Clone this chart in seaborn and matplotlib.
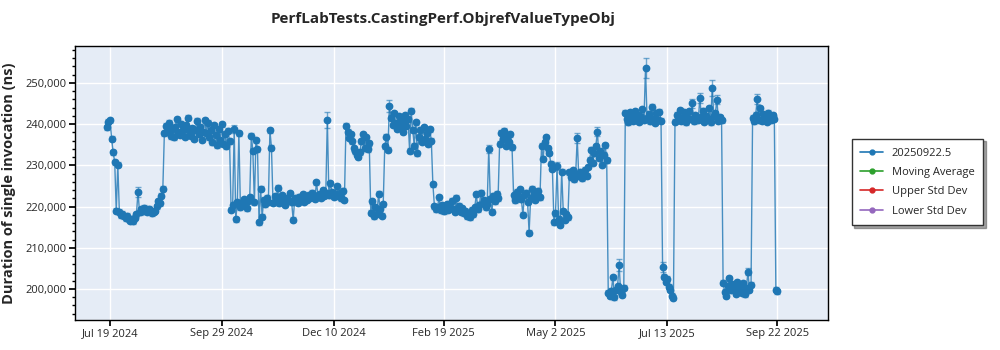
import numpy as np
import pandas as pd
import matplotlib
matplotlib.use("Agg")
import matplotlib.pyplot as plt
from matplotlib.lines import Line2D
from matplotlib.ticker import FuncFormatter, MultipleLocator
import seaborn as sns

title = "PerfLabTests.CastingPerf.ObjrefValueTypeObj"
y_label = "Duration of single invocation (ns)"
series_name = "20250922.5"
legend_labels = ["20250922.5", "Moving Average", "Upper Std Dev", "Lower Std Dev"]
legend_colors = ["#1f77b4", "#2ca02c", "#d62728", "#9467bd"]
x_tick_labels = ["Jul 19 2024", "Sep 29 2024", "Dec 10 2024", "Feb 19 2025",
                 "May 2 2025", "Jul 13 2025", "Sep 22 2025"]
first_date = "2024-07-17"

# values in thousands of ns, one per day
values_k = [
    239.2, 240.6, 241.0, 236.5, 233.2, 230.8, 219.0, 230.2,
    218.7, 217.9, 218.3, 217.6, 217.2, 217.8, 216.9, 216.5, 217.1, 216.4,
    217.3, 218.1, 223.6, 218.6, 219.4, 218.9, 219.7, 219.2, 218.8, 219.5,
    219.1, 218.4, 218.7, 219.0, 220.1, 221.3, 220.8, 222.6, 224.3,
    237.8, 239.6, 238.2, 240.4, 237.1, 238.9, 236.8, 239.3, 241.2, 238.0,
    237.4, 240.1, 238.6, 236.9, 239.8, 241.5, 238.3, 237.2, 239.0, 236.5,
    238.7, 240.8, 237.6, 239.4, 236.2, 238.1, 241.0, 237.9, 240.3, 236.8,
    238.5, 235.6, 239.7, 237.3, 234.9, 238.8, 236.1, 240.0, 235.3, 237.7,
    234.6, 238.4, 235.8,
    219.2, 220.4, 238.8, 216.9, 221.0, 237.8, 219.8, 220.9, 221.8, 220.2,
    219.6, 221.4, 222.3, 237.2, 233.6, 221.0, 236.1, 233.9, 216.2, 224.3,
    217.5, 221.7, 220.6, 222.2, 221.1, 238.5, 234.3, 220.9, 222.5, 221.6,
    224.6, 220.8, 221.9, 222.8, 221.3, 220.5, 222.1, 221.4, 223.2, 221.0,
    216.8, 222.0, 221.5, 220.9, 222.4, 221.8, 223.0, 221.2, 222.3, 221.7,
    222.9, 222.1, 223.4, 222.5, 221.9, 225.9, 222.7, 223.1, 222.2, 224.0,
    222.6, 223.3, 241.0, 222.8, 225.6, 223.5, 222.4, 223.0, 224.9, 222.6,
    223.4, 222.0, 223.8, 221.6,
    239.6, 238.2, 236.7, 237.6, 235.8, 234.2, 233.4, 232.6, 232.1, 233.2,
    235.9, 237.6, 234.3, 236.8, 233.9, 235.4,
    218.5, 221.3, 217.6, 219.8, 218.2, 223.1, 219.4, 217.8, 220.6,
    234.6, 236.9, 233.8, 244.4, 241.5, 239.8, 242.6, 240.3, 238.9, 241.9,
    239.4, 240.8, 238.2, 242.1, 239.6, 241.2, 233.6, 243.2, 238.7, 234.8,
    240.5, 232.9, 236.8, 238.6, 235.7, 239.3, 236.4, 237.9, 235.2, 238.8,
    236.0, 225.4,
    220.1, 219.4, 219.8, 222.3, 219.1, 220.3, 218.9, 219.7, 220.6, 219.2,
    220.0, 221.4, 219.5, 218.7, 222.2, 219.3, 220.2, 218.8, 219.6, 218.4,
    219.0, 217.6, 218.5, 217.4, 219.2, 218.1, 219.8, 223.0, 219.4, 220.5,
    223.4, 220.9, 221.6, 219.8, 220.7, 234.0,
    221.9, 218.8, 222.6, 221.3, 223.1, 222.0,
    235.2, 237.9, 236.4, 238.4, 234.8, 236.9, 235.6, 237.5, 234.4,
    222.8, 221.5, 223.6, 222.0, 224.2, 221.8, 218.0, 222.9, 223.4, 221.2,
    213.7, 222.1, 224.3, 223.0, 221.6, 222.7, 223.8, 222.3,
    234.8, 231.6, 235.6, 236.8, 234.1, 233.0, 230.4, 229.2,
    216.2, 218.4, 229.8, 217.1, 215.6, 228.5, 218.9, 216.8, 218.2, 217.4,
    228.3, 227.1, 228.8, 226.6, 227.9, 236.6, 227.3, 228.5, 226.9, 227.8,
    228.9, 227.5, 229.6,
    231.4, 233.8, 230.6, 232.9, 234.7, 238.2, 231.8, 233.5, 230.2, 232.6,
    234.9, 231.2,
    199.1, 198.3, 199.6, 202.9, 198.0, 199.8, 200.7, 205.8, 199.2, 198.6,
    200.3,
    242.8, 241.2, 240.5, 242.9, 241.6, 240.8, 243.1, 241.0, 242.2, 240.6,
    241.8, 243.6, 240.9, 253.6, 241.4, 242.5, 240.7, 244.2, 241.3, 240.4,
    242.7, 241.1, 243.0, 240.8,
    205.4, 203.0, 201.8, 202.5, 200.6, 199.8, 198.4, 197.9,
    240.6, 242.3, 241.0, 243.4, 240.8, 241.7, 242.9, 240.5, 241.6, 243.1,
    241.2, 245.1, 240.7, 242.2, 241.4, 240.9, 246.3, 241.8, 243.3, 240.6,
    242.0, 241.3, 243.8, 240.5, 248.7, 241.9, 242.6, 245.9, 240.8, 241.7,
    240.9,
    201.5, 199.3, 198.4, 200.8, 202.6, 199.7, 201.2, 200.3, 198.9, 201.6,
    199.5, 200.9, 199.1, 201.4, 198.7, 200.2, 204.2, 199.8, 201.0,
    241.6, 240.7, 242.3, 246.1, 241.0, 243.9, 240.8, 242.4, 241.2, 240.6,
    242.8, 241.5, 240.9, 242.1, 241.3,
    199.8, 199.5,
]

# error bar half-widths (thousands of ns): typical value, larger ones at spikes
typical_error_k = 0.6
larger_errors_k = {20: 1.2, 82: 1.0, 142: 1.9, 182: 1.5, 246: 1.0, 290: 1.0,
                   303: 1.2, 316: 1.0, 330: 1.5, 347: 2.4, 358: 1.2, 377: 1.1,
                   382: 1.2, 390: 1.9, 393: 1.1, 419: 1.3, 413: 0.9}

df = pd.DataFrame({
    "date": pd.date_range(first_date, periods=len(values_k), freq="D"),
    "value": np.array(values_k) * 1000.0,
})
df["err"] = [larger_errors_k.get(i, typical_error_k) * 1000.0 for i in range(len(df))]

sns.set_theme(style="whitegrid")
plt.rcParams["font.family"] = ["Open Sans", "DejaVu Sans"]

fig = plt.figure(figsize=(10, 3.5), dpi=100)
ax = fig.add_axes([0.075, 0.086, 0.753, 0.783])
ax.set_facecolor("#E5ECF6")
fig.patch.set_facecolor("white")

blue = "#1f77b4"
sns.lineplot(data=df, x="date", y="value", ax=ax, color=blue, lw=1.0,
             alpha=0.8, legend=False, zorder=2)
ax.errorbar(df["date"], df["value"], yerr=df["err"], fmt="o", ms=4.6,
            color=blue, ecolor=(0.12, 0.47, 0.71, 0.6), elinewidth=1.0,
            capsize=2.5, capthick=1.0, zorder=3)

ax.set_ylim(192500, 259000)
ax.set_xlim(pd.Timestamp("2024-06-26 10:00"), pd.Timestamp("2025-10-24 14:00"))
ax.yaxis.set_major_locator(MultipleLocator(10000))
ax.yaxis.set_minor_locator(MultipleLocator(2000))
ax.yaxis.set_major_formatter(FuncFormatter(lambda v, p: f"{int(v):,}"))
tick_dates = [pd.to_datetime(t, format="%b %d %Y") for t in x_tick_labels]
ax.set_xticks(tick_dates)
ax.set_xticklabels(x_tick_labels)

ax.grid(True, which="major", color="white", lw=1.0)
ax.grid(False, which="minor")
for s in ax.spines.values():
    s.set_color("black")
    s.set_linewidth(1.0)
ax.tick_params(axis="both", which="major", labelsize=8, length=4, color="black",
               direction="out", left=True, bottom=True, pad=2)
ax.tick_params(axis="y", which="minor", length=2, color="black", left=True)
ax.set_xlabel("")
ax.set_ylabel(y_label, fontsize=10.5, fontweight="bold", labelpad=7)

fig.text(0.443, 0.945, title, ha="center", va="center", fontsize=11,
         fontweight="bold")

handles = [Line2D([0], [0], color=c, marker="o", ms=3.5, lw=1.2) for c in legend_colors]
leg = fig.legend(handles, legend_labels, loc="center left",
                 bbox_to_anchor=(0.846, 0.48), fontsize=8, frameon=True,
                 fancybox=False, shadow=True, handlelength=2.0,
                 borderpad=0.8, labelspacing=0.75)
leg.get_frame().set_edgecolor("#333333")
leg.get_frame().set_linewidth(1.0)

fig.savefig("out.png", dpi=100)
